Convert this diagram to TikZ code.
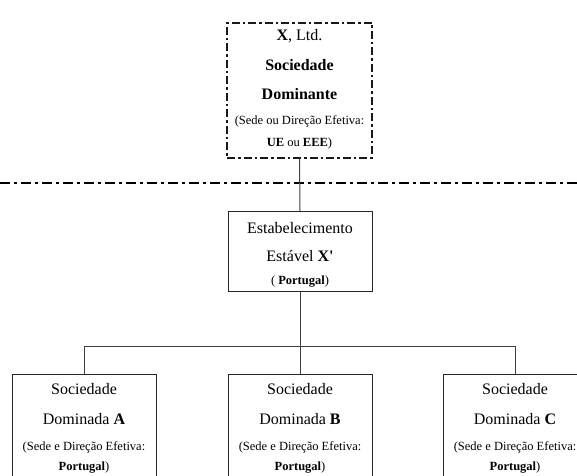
\documentclass[tikz,border=0pt]{standalone}
\usepackage{fontspec}
\setmainfont{Liberation Serif}[Ligatures=TeXOff]
\begin{document}
\begin{tikzpicture}[x=1pt,y=-1pt,
  solidbox/.style={draw=black!85, line width=1pt, rectangle, inner sep=0pt, minimum width=144pt, anchor=north},
  dombox/.style={draw=black!90, line width=1.7pt, rectangle, inner sep=0pt, dash pattern=on 8pt off 3pt on 2.5pt off 3pt},
  conn/.style={draw=black!75, line width=1pt},
  big/.style={anchor=base, inner sep=0pt, font=\fontsize{16}{18}\selectfont},
  small/.style={anchor=base, inner sep=0pt, font=\fontsize{12.5}{14}\selectfont}]
\useasboundingbox (0,0) rectangle (577,475);
\clip (0,0) rectangle (577,475);
% dominant box
\node[dombox, minimum width=145pt, minimum height=135pt, anchor=north] (top) at (299.5,22) {};
\node[big] (t1) at (299.5,40) {\textbf{X}, Ltd.};
\node[big] (t2) at (299.5,70) {\textbf{Sociedade}};
\node[big] (t3) at (299.5,99) {\textbf{Dominante}};
\node[small] (t4) at (299.5,124) {(Sede ou Direção Efetiva:};
\node[small] (t5) at (299.5,146) {\textbf{UE} ou \textbf{EEE})};
% dash-dot separator
\coordinate (sepL) at (0,183);
\coordinate (sepR) at (577,183);
\draw[line width=1.7pt, dash pattern=on 10pt off 4pt on 3pt off 4pt] (sepL) -- (sepR);
% permanent establishment
\node[solidbox, minimum height=80pt] (pe) at (300,211) {};
\node[big] (p1) at (300,233) {Estabelecimento};
\node[big] (p2) at (300,261) {Estável \textbf{X'}};
\node[small] (p3) at (300,284) {( \textbf{Portugal})};
% subsidiaries
\node[solidbox, minimum height=130pt] (A) at (84,374) {};
\node[solidbox, minimum height=130pt] (B) at (300,374) {};
\node[solidbox, minimum height=130pt] (C) at (515,374) {};
\foreach \n/\x/\l in {a/84/A, b/300/B, c/515/C}{
  \node[big] (\n1) at (\x,394) {Sociedade};
  \node[big] (\n2) at (\x,424) {Dominada \textbf{\l}};
  \node[small] (\n3) at (\x,450) {(Sede e Direção Efetiva:};
  \node[small] (\n4) at (\x,470) {\textbf{Portugal})};
}
% connectors
\coordinate (bus) at (300,346);
\draw[conn] (top.south) -- (pe.north);
\draw[conn] (pe.south) -- (bus);
\draw[conn] (A.north) |- (bus) -| (C.north);
\draw[conn] (bus) -- (B.north);
\end{tikzpicture}
\end{document}
